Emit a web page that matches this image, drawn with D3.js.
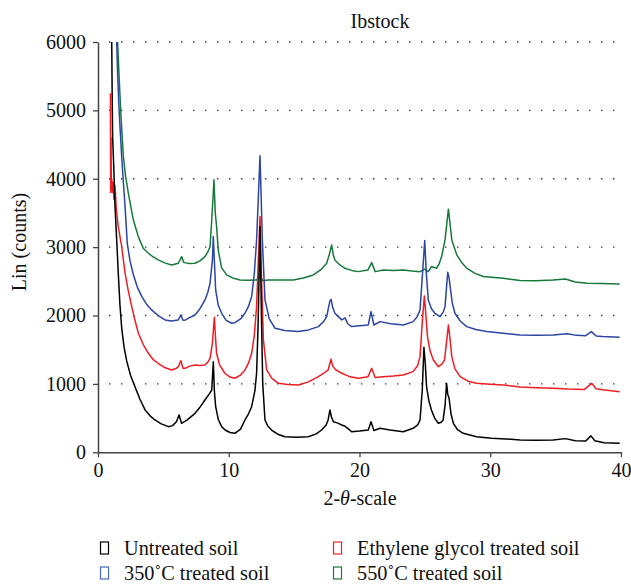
<!DOCTYPE html>
<html>
<head>
<meta charset="utf-8">
<script src="https://cdn.jsdelivr.net/npm/d3@7"></script>
<style>
  html, body { margin: 0; padding: 0; background: #fff; }
  svg { display: block; }
  svg text { font-family: "Liberation Serif", "DejaVu Serif", serif !important; fill: #111; }
</style>
</head>
<body>
<svg id="chart" width="631" height="586"></svg>
<script>
// ---------------- data ----------------
const chartTitle = "Ibstock";
const xTicks = [0, 10, 20, 30, 40];
const yTicks = [0, 1000, 2000, 3000, 4000, 5000, 6000];
const gridValues = [1000, 2000, 3000, 4000, 5000, 6000];
const seriesNames = ["Untreated soil", "Ethylene glycol treated soil", "350\u02DAC treated soil", "550\u02DAC treated soil"];

const untreated = [
  [1.05,6000],[1.08,5300],[1.12,4600],[1.2,4200],[1.3,3600],[1.43,3100],[1.55,2620],[1.68,2150],[1.82,1800],
  [2.0,1530],[2.2,1330],[2.5,1120],[2.83,960],[3.2,780],[3.6,620],[4.0,530],[4.36,473],[4.8,420],[5.38,375],[5.7,390],
  [6.0,448],[6.2,546],[6.39,424],[6.8,470],[7.42,570],[7.8,660],[8.18,765],[8.5,850],[8.7,911],[8.82,1325],
  [8.9,900],[9.0,667],[9.2,480],[9.46,375],[9.72,326],[10.1,290],[10.47,278],[10.9,340],[11.24,473],[11.5,560],
  [11.75,667],[12.0,900],[12.13,1156],[12.25,1900],[12.39,3300],[12.5,2000],[12.6,1000],[12.77,473],[13.0,380],
  [13.28,326],[13.8,260],[14.3,228],[15.2,220],[16.08,228],[16.7,270],[17.1,326],[17.45,400],[17.6,473],
  [17.74,619],[17.85,520],[18.0,448],[18.3,430],[18.64,400],[18.9,380],[19.1,350],[19.4,301],[20.0,310],
  [20.67,326],[20.88,448],[21.1,320],[21.57,351],[22.33,326],[23.35,301],[24.1,351],[24.45,400],[24.63,473],
  [24.8,911],[24.93,1536],[25.03,1300],[25.13,960],[25.3,760],[25.5,619],[25.75,500],[26.03,424],[26.25,440],
  [26.4,473],[26.55,700],[26.66,1009],[26.75,850],[26.85,790],[27.0,560],[27.18,424],[27.5,330],[27.93,278],
  [28.95,228],[30.1,205],[31.2,195],[32.3,180],[33.5,175],[34.8,180],[35.75,200],[36.5,170],[37.3,165],
  [37.7,240],[38.0,170],[38.7,140],[39.9,131]
];

const glycol = [
  [0.95,5250],[0.96,4400],[0.97,3800],[1.0,4600],[1.02,3850],[1.05,4000],[1.1,3800],[1.15,3950],[1.22,3700],
  [1.3,3900],[1.4,3550],[1.55,3300],[1.81,3010],[2.07,2620],[2.3,2380],[2.58,2130],[2.8,1950],[3.09,1741],
  [3.45,1580],[3.85,1448],[4.2,1360],[4.6,1302],[5.1,1240],[5.64,1204],[6.0,1230],[6.14,1252],[6.34,1340],
  [6.5,1230],[6.7,1230],[7.0,1260],[7.42,1277],[7.8,1270],[8.18,1277],[8.4,1320],[8.57,1375],[8.75,1600],
  [8.9,1975],[8.98,1700],[9.07,1448],[9.3,1280],[9.7,1156],[10.1,1100],[10.47,1083],[10.9,1130],[11.24,1204],
  [11.5,1300],[11.75,1448],[11.95,1700],[12.13,2130],[12.28,2900],[12.39,3447],[12.5,2600],[12.65,1643],
  [12.9,1204],[13.3,1080],[13.8,1009],[14.5,990],[15.33,985],[16.1,1030],[16.85,1106],[17.3,1160],[17.6,1204],
  [17.82,1360],[17.95,1260],[18.2,1204],[18.64,1156],[19.2,1110],[19.9,1083],[20.65,1106],[20.93,1229],
  [21.2,1095],[21.8,1106],[22.6,1115],[23.35,1131],[24.1,1180],[24.45,1270],[24.63,1399],[24.8,1900],
  [24.96,2287],[25.08,2000],[25.2,1692],[25.4,1480],[25.65,1350],[26.03,1252],[26.3,1290],[26.5,1350],
  [26.65,1600],[26.8,1862],[26.93,1650],[27.06,1399],[27.3,1220],[27.7,1106],[28.3,1040],[28.95,1009],
  [30.0,995],[31.0,985],[32.27,955],[33.5,945],[34.8,936],[36.0,925],[37.2,920],[37.76,1009],[38.1,930],
  [38.6,916],[39.9,887]
];

const heated350 = [
  [1.43,6000],[1.5,5550],[1.6,5057],[1.7,4700],[1.81,4325],[1.94,3950],[2.07,3593],[2.24,3050],[2.45,2800],
  [2.7,2600],[3.0,2420],[3.35,2276],[3.7,2170],[4.1,2082],[4.6,2000],[5.13,1936],[5.6,1920],[6.14,1936],
  [6.34,2008],[6.5,1930],[6.7,1936],[7.0,1970],[7.42,2008],[7.8,2100],[8.18,2228],[8.4,2340],[8.57,2472],
  [8.75,2813],[8.82,3155],[8.9,2800],[9.0,2374],[9.2,2150],[9.46,2033],[9.8,1930],[10.23,1887],[10.47,1896],
  [10.9,1950],[11.24,2033],[11.5,2130],[11.75,2276],[11.95,2600],[12.13,3105],[12.3,3900],[12.39,4335],
  [12.47,3800],[12.57,3105],[12.77,2228],[13.1,1950],[13.54,1814],[14.3,1780],[15.33,1765],[16.1,1790],
  [16.85,1838],[17.25,1910],[17.49,1984],[17.72,2200],[17.82,2238],[17.95,2120],[18.12,2033],[18.4,1980],
  [18.64,1936],[18.9,1965],[19.1,1880],[19.4,1838],[20.0,1850],[20.67,1862],[20.88,2057],[21.1,1862],
  [21.57,1911],[22.4,1880],[23.35,1862],[24.1,1911],[24.4,1980],[24.63,2082],[24.85,2700],[24.99,3096],
  [25.1,2650],[25.26,2228],[25.5,2100],[25.77,2033],[26.16,1984],[26.4,2050],[26.54,2130],[26.65,2400],
  [26.75,2633],[26.85,2550],[26.95,2400],[27.1,2180],[27.3,2033],[27.7,1920],[28.2,1838],[28.9,1795],
  [29.73,1765],[31.0,1740],[32.27,1716],[33.5,1712],[34.8,1716],[35.9,1735],[36.6,1710],[37.3,1705],
  [37.74,1765],[38.1,1700],[38.6,1692],[39.9,1682]
];

const heated550 = [
  [1.5,6000],[1.6,5545],[1.76,4910],[1.94,4325],[2.1,4050],[2.32,3790],[2.7,3400],[3.09,3150],[3.46,2985],
  [3.85,2911],[4.2,2860],[4.6,2813],[5.1,2770],[5.63,2740],[6.14,2765],[6.4,2862],[6.55,2780],[6.7,2770],
  [7.0,2760],[7.42,2765],[7.8,2800],[8.18,2862],[8.4,2930],[8.57,3008],[8.7,3400],[8.87,3984],[8.97,3500],
  [9.07,3300],[9.2,2950],[9.45,2700],[9.84,2594],[10.3,2550],[10.86,2520],[11.5,2515],[12.13,2520],
  [12.39,2580],[12.6,2510],[13.0,2520],[13.66,2520],[14.94,2520],[15.7,2550],[16.47,2594],[17.1,2680],
  [17.49,2765],[17.7,2900],[17.87,3033],[18.0,2880],[18.12,2813],[18.5,2740],[18.87,2692],[19.4,2660],
  [19.9,2642],[20.65,2667],[20.93,2774],[21.2,2642],[21.82,2667],[22.6,2660],[23.35,2667],[24.0,2650],
  [24.63,2642],[24.99,2680],[25.26,2642],[25.5,2716],[25.9,2692],[26.1,2760],[26.28,2862],[26.54,3106],
  [26.8,3555],[26.92,3350],[27.06,3106],[27.44,2887],[27.8,2780],[28.2,2692],[28.8,2620],[29.47,2570],
  [31.0,2545],[32.27,2511],[33.5,2510],[34.8,2520],[35.75,2535],[36.5,2490],[37.4,2472],[38.5,2470],
  [39.9,2462]
];

// ---------------- drawing ----------------
const lineColors = { untreated: "#000000", glycol: "#ee1d24", heated350: "#2b45a2", heated550: "#16793a" };
const legendColors = ["#000000", "#e8262e", "#4a6ab6", "#1e7b3a"];

const svg = d3.select("#chart");
const x = d3.scaleLinear().domain([0, 40]).range([98, 621]);
const y = d3.scaleLinear().domain([0, 6000]).range([452.3, 42]);

// dotted grid
svg.append("g").selectAll("line").data(gridValues).join("line")
  .attr("x1", x(0) + 1).attr("x2", x(40))
  .attr("y1", d => y(d)).attr("y2", d => y(d))
  .attr("stroke", "#333").attr("stroke-width", 1.4)
  .attr("stroke-dasharray", "1.4,10.6").attr("stroke-dashoffset", -10);

// series lines
const line = d3.line().x(d => x(d[0])).y(d => y(d[1]));
const drawOrder = [
  [heated550, lineColors.heated550],
  [heated350, lineColors.heated350],
  [glycol, lineColors.glycol],
  [untreated, lineColors.untreated]
];
svg.append("g").selectAll("path").data(drawOrder).join("path")
  .attr("d", d => line(d[0]))
  .attr("fill", "none")
  .attr("stroke", d => d[1])
  .attr("stroke-width", 1.5)
  .attr("stroke-linejoin", "round");

// axes
const fs = "20px";
const xAxis = svg.append("g").attr("transform", `translate(0,${y(0)})`)
  .call(d3.axisBottom(x).tickValues(xTicks).tickFormat(d3.format("d")).tickSize(5).tickSizeOuter(0).tickPadding(6));
const yAxis = svg.append("g").attr("transform", `translate(${x(0)},0)`)
  .call(d3.axisLeft(y).tickValues(yTicks).tickFormat(d3.format("d")).tickSize(5).tickSizeOuter(0).tickPadding(7));
[xAxis, yAxis].forEach(a => {
  a.attr("font-family", null).attr("font-size", null);
  a.select(".domain").attr("stroke", "#444").attr("stroke-width", 1.5);
  a.selectAll(".tick line").attr("stroke", "#444").attr("stroke-width", 1.3);
  a.selectAll(".tick text").style("font-size", fs).attr("fill", "#111");
});

// title
svg.append("text").attr("x", 380).attr("y", 28).attr("text-anchor", "middle")
  .style("font-size", "20px").text(chartTitle);

// axis titles
const xl = svg.append("text").attr("x", 360).attr("y", 505).attr("text-anchor", "middle").style("font-size", fs);
xl.append("tspan").text("2-");
xl.append("tspan").attr("font-style", "italic").text("\u03B8");
xl.append("tspan").text("-scale");

svg.append("text").attr("transform", "translate(26,242) rotate(-90)")
  .attr("text-anchor", "middle").style("font-size", fs).text("Lin (counts)");

// legend
const legendPos = [[100, 555], [333, 555], [100, 580], [333, 580]];
const lg = svg.append("g").selectAll("g").data(seriesNames).join("g")
  .attr("transform", (d, i) => `translate(${legendPos[i][0]},${legendPos[i][1]})`);
lg.append("rect").attr("x", 0.5).attr("y", -13).attr("width", 8).attr("height", 12)
  .attr("fill", "none").attr("stroke", (d, i) => legendColors[i]).attr("stroke-width", 1.2);
lg.append("text").attr("x", 24).attr("y", 0).style("font-size", "20.3px").text(d => d);
</script>
</body>
</html>
